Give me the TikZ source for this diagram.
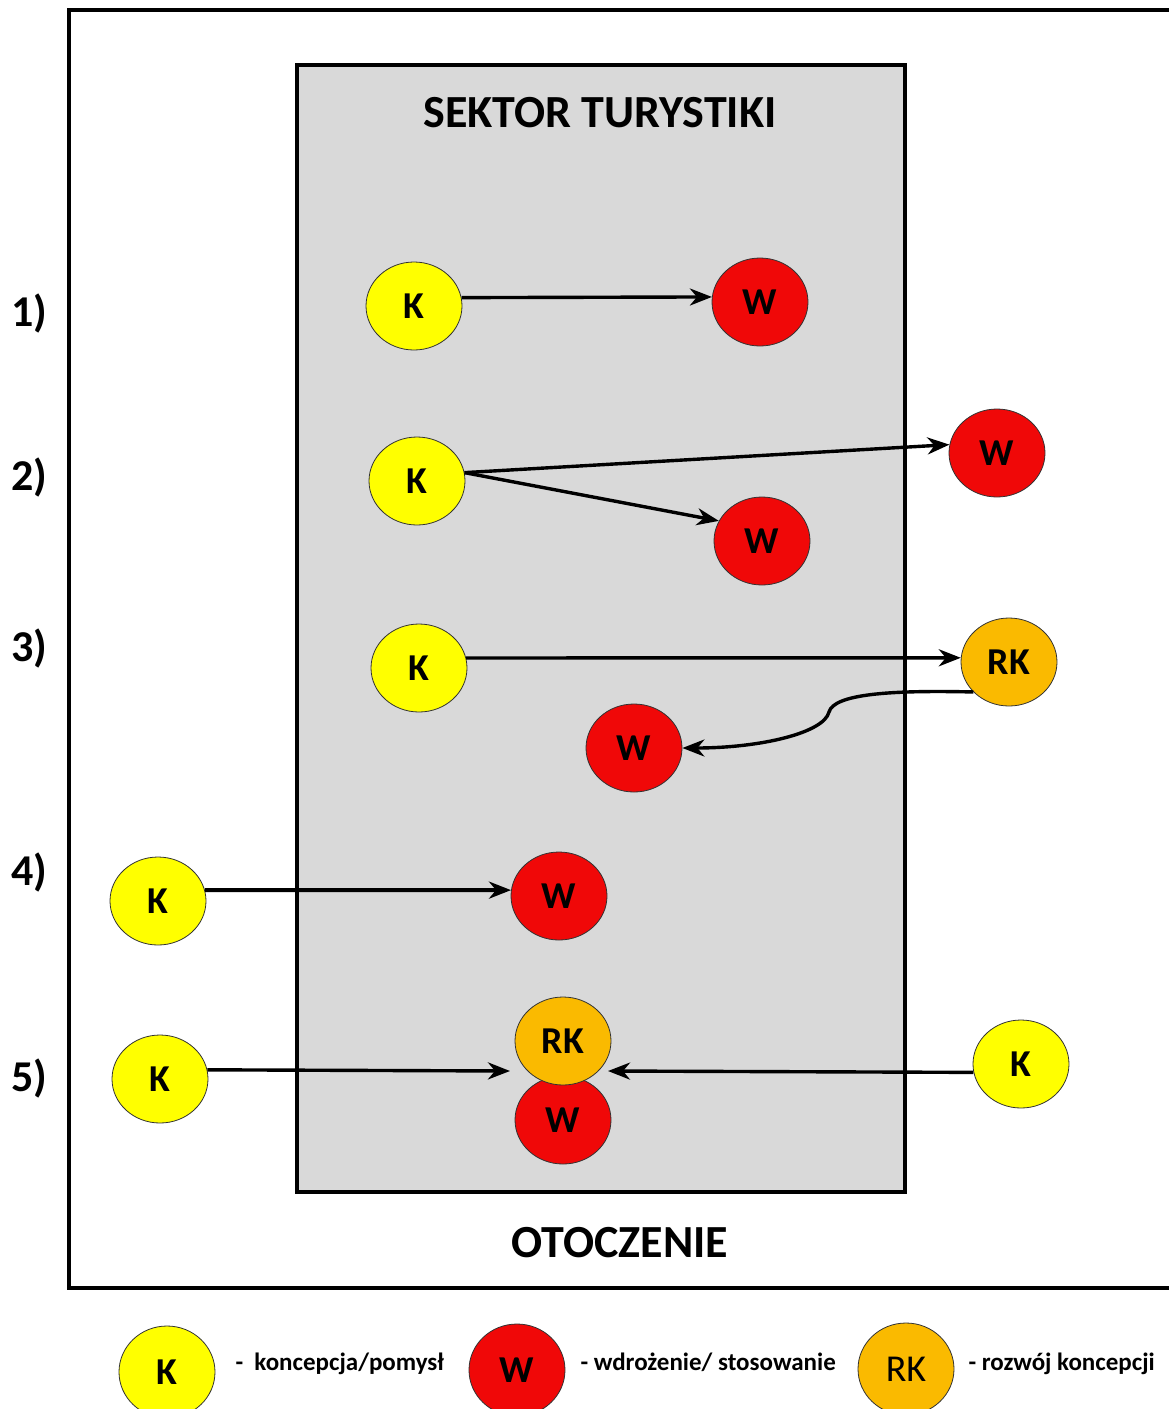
\documentclass[tikz,border=0pt]{standalone}
\usepackage{fontspec}
\setmainfont{Carlito}
\usepackage{xcolor}
\usetikzlibrary{arrows,arrows.meta,shapes.geometric,calc}
\definecolor{kyellow}{RGB}{255,255,0}
\definecolor{wred}{RGB}{240,8,8}
\definecolor{rkorange}{RGB}{250,186,0}
\definecolor{sectorgray}{RGB}{217,217,217}

\begin{document}
\begin{tikzpicture}[x=1pt,y=-1pt,>={Stealth[length=22pt,width=17pt,inset=7pt]}]
    \tikzstyle{bubble} = [ellipse,draw=black!80,line width=0.8pt,minimum width=96pt,minimum height=88pt,inner sep=0pt,font=\fontsize{38}{40}\selectfont\bfseries]
    \tikzstyle{idea} = [bubble,fill=kyellow]
    \tikzstyle{impl} = [bubble,fill=wred]
    \tikzstyle{devel} = [bubble,fill=rkorange]
    \tikzstyle{flow} = [->,line width=3.4pt]
    \tikzstyle{bigtext} = [font=\fontsize{46}{48}\selectfont\bfseries]
    \tikzstyle{legtext} = [anchor=base west,font=\fontsize{25}{27}\selectfont\bfseries]
    \useasboundingbox (0,0) rectangle (1169,1409);
    \clip (0,0) rectangle (1169,1409);
    % otoczenie i sektor
    \draw[line width=4pt] (69,10) rectangle (1190,1288);
    \draw[line width=4.5pt,fill=sectorgray] (297,65) rectangle (905,1192);
    \node[bigtext] (sektor) at (600,113) {SEKTOR TURYSTIKI};
    \node[bigtext] (otoczenie) at (620,1243) {OTOCZENIE};
    \foreach \n/\y in {1/313,2/477,3/648,4/872,5/1078}
    {
      \node[bigtext,font=\fontsize{44}{46}\selectfont\bfseries,anchor=west,inner sep=0pt] (row\n) at (11,\y) {\n)};
    }
    % 1)
    \node[idea] (k1) at (414,306) {K};
    \node[impl] (w1) at (760,302) {W};
    \draw[flow] (k1.10) -- (w1.174);
    % 2)
    \node[idea] (k2) at (417,481) {K};
    \node[impl] (w2a) at (997,453) {W};
    \node[impl] (w2b) at (762,541) {W};
    \draw[flow] (k2.10) -- (w2a.170);
    \draw[flow] (k2.10) -- (w2b.155);
    % 3)
    \node[idea] (k3) at (419,668) {K};
    \node[devel] (rk3) at (1009,662) {RK};
    \node[impl] (w3) at (634,748) {W};
    \draw[flow] (k3.12) -- (rk3.175);
    \draw[flow] (rk3.220) .. controls (890,690) and (834,694) .. (829,712) .. controls (824,733) and (760,748) .. (w3.east);
    % 4)
    \node[idea] (k4) at (158,901) {K};
    \node[impl] (w4) at (559,896) {W};
    \draw[flow,line width=4pt] (k4.13) -- (w4.173);
    % 5)
    \node[idea] (k5) at (160,1079) {K};
    \node[impl] (w5) at (563,1120) {W};
    \node[devel] (rk5) at (563,1041) {RK};
    \node[idea] (k5r) at (1021,1064) {K};
    \coordinate (in5l) at (510,1071);
    \coordinate (in5r) at (608,1071);
    \draw[flow] (k5.11) -- (in5l);
    \draw[flow] (k5r.190) -- (in5r);
    % legenda
    \node[idea,minimum height=92pt] (legk) at (167,1372) {K};
    \node[legtext] (legktext) at (232,1370) {-\ \ koncepcja/pomysł};
    \node[impl,minimum height=92pt] (legw) at (517,1370) {W};
    \node[legtext] (legwtext) at (577,1370) {- wdrożenie/ stosowanie};
    \node[devel,minimum height=92pt,font=\fontsize{38}{40}\selectfont] (legrk) at (906,1369) {RK};
    \node[legtext] (legrktext) at (965,1370) {- rozwój koncepcji};
  \end{tikzpicture}
\end{document}
